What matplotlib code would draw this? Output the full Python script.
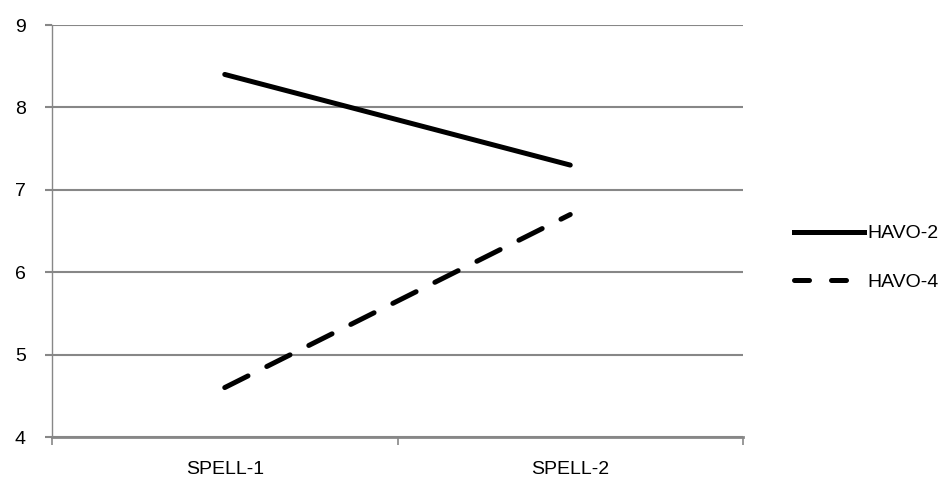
import matplotlib.pyplot as plt
from matplotlib.lines import Line2D
import numpy as np

categories = ["SPELL-1", "SPELL-2"]
havo_2 = [8.4, 7.3]
havo_4 = [4.6, 6.7]
series_names = ["HAVO-2", "HAVO-4"]

plt.rcParams['font.family'] = ['Liberation Sans', 'DejaVu Sans']

fig = plt.figure(figsize=(9.46, 4.91), dpi=100)
ax = fig.add_axes([52 / 946, 1 - 437 / 491, (743 - 52) / 946, (437 - 25) / 491])

grid_color = '#878787'
x = np.arange(len(categories))
lw = 3.6
ax.plot(x, havo_2, color='black', lw=lw, solid_capstyle='round')
ax.plot(x, havo_4, color='black', lw=lw, dashes=(5.2, 4.2), dash_capstyle='round')

ax.set_xlim(-0.5, len(categories) - 0.5)
ax.set_ylim(4, 9)
ax.set_yticks(range(4, 10))
ax.yaxis.grid(True, color=grid_color, lw=1.5)
ax.set_axisbelow(True)

ax.set_xticks(np.arange(-0.5, len(categories), 1.0))
ax.set_xticklabels([])
ax.set_xticks(x, minor=True)
ax.set_xticklabels(categories, minor=True)
ax.tick_params(axis='x', which='major', length=6, width=1.2, color=grid_color)
ax.tick_params(axis='x', which='minor', length=0, pad=17, labelsize=14)
ax.tick_params(axis='y', length=5, width=1.5, color=grid_color, labelsize=14, pad=14)

for side in ['top', 'right']:
    ax.spines[side].set_visible(False)
ax.spines['left'].set_color(grid_color)
ax.spines['left'].set_linewidth(1.0)
ax.spines['bottom'].set_color(grid_color)
ax.spines['bottom'].set_linewidth(2.0)

handles = [
    Line2D([], [], color='black', lw=lw),
    Line2D([], [], color='black', lw=lw, dashes=(3.0, 4.4), dash_capstyle='round'),
]
fig.legend(handles, series_names, loc='center left', bbox_to_anchor=(776 / 946, 1 - 258 / 491),
           frameon=False, fontsize=14, handlelength=3.6, handletextpad=0.2,
           labelspacing=1.6)

fig.savefig("out.png", dpi=100)
